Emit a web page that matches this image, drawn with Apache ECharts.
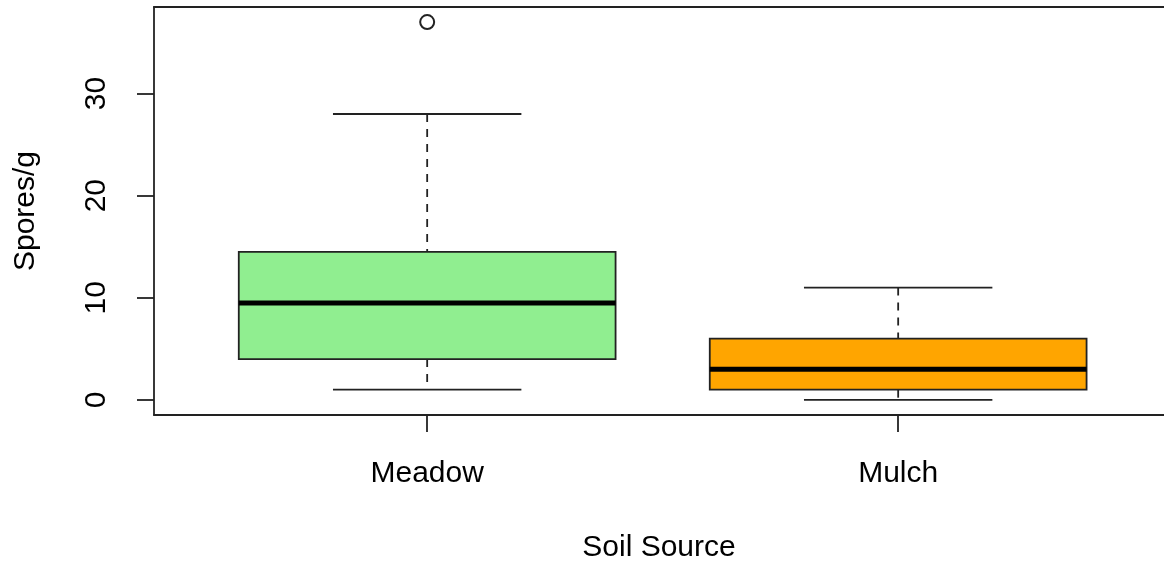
<!DOCTYPE html>
<html>
<head>
<meta charset="utf-8">
<script src="https://cdn.jsdelivr.net/npm/echarts@6/dist/echarts.min.js"></script>
<style>
  html, body { margin: 0; padding: 0; background: #fff; }
  #chart { width: 1164px; height: 563px; }
</style>
</head>
<body>
<div id="chart"></div>
<script>
// Spore counts per gram by soil source (five-number summaries)
const categories = ['Meadow', 'Mulch'];
const whiskerLow = [1, 0];
const q1 = [4, 1];
const median = [9.5, 3];
const q3 = [14.5, 6];
const whiskerHigh = [28, 11];
// outliers as [category index (1-based), value]
const outliers = [[1, 37]];
const fillColors = ['#90EE90', '#FFA500'];
const yTicks = [0, 10, 20, 30];
const xTicks = [1, 2];

const FONT = '"Liberation Sans", Arial, Helvetica, sans-serif';
const INK = '#222';
const LW = 1.8;

const boxData = categories.map((c, i) =>
  [i + 1, whiskerLow[i], q1[i], median[i], q3[i], whiskerHigh[i], i]);

function renderBox(params, api) {
  const x = api.value(0);
  const idx = api.value(6);
  const pLow = api.coord([x, api.value(1)]);
  const pQ1 = api.coord([x, api.value(2)]);
  const pMed = api.coord([x, api.value(3)]);
  const pQ3 = api.coord([x, api.value(4)]);
  const pHigh = api.coord([x, api.value(5)]);
  const boxW = api.size([0.8, 0])[0];
  const capW = api.size([0.4, 0])[0];
  const cx = pMed[0];
  const dash = { stroke: INK, lineWidth: LW, lineDash: [8, 7] };
  const solid = { stroke: INK, lineWidth: LW };
  return {
    type: 'group',
    children: [
      { type: 'line', shape: { x1: cx, y1: pHigh[1], x2: cx, y2: pQ3[1] }, style: dash },
      { type: 'line', shape: { x1: cx, y1: pQ1[1], x2: cx, y2: pLow[1] }, style: dash },
      { type: 'line', shape: { x1: cx - capW / 2, y1: pHigh[1], x2: cx + capW / 2, y2: pHigh[1] }, style: solid },
      { type: 'line', shape: { x1: cx - capW / 2, y1: pLow[1], x2: cx + capW / 2, y2: pLow[1] }, style: solid },
      {
        type: 'rect',
        shape: { x: cx - boxW / 2, y: pQ3[1], width: boxW, height: pQ1[1] - pQ3[1] },
        style: { fill: fillColors[idx], stroke: INK, lineWidth: LW }
      },
      {
        type: 'line',
        shape: { x1: cx - boxW / 2, y1: pMed[1], x2: cx + boxW / 2, y2: pMed[1] },
        style: { stroke: '#000', lineWidth: 5 }
      }
    ]
  };
}

const frameLine = { show: true, onZero: false, lineStyle: { color: INK, width: LW } };

const chart = echarts.init(document.getElementById('chart'), null, { renderer: 'canvas' });
chart.setOption({
  animation: false,
  backgroundColor: '#fff',
  textStyle: { fontFamily: FONT },
  grid: { left: 154, right: 0, top: 7, bottom: 148, show: false, outerBoundsMode: 'none', containLabel: false },
  xAxis: [
    {
      type: 'value',
      position: 'bottom',
      min: 0.42, max: 2.5644,
      axisLine: frameLine,
      splitLine: { show: false },
      axisTick: { show: true, customValues: xTicks, length: 17, lineStyle: { color: INK, width: LW } },
      axisLabel: {
        customValues: xTicks,
        formatter: v => categories[Math.round(v) - 1],
        fontSize: 30, color: '#000', margin: 44, fontFamily: FONT
      },
      name: 'Soil Source',
      nameLocation: 'middle',
      nameGap: 118,
      nameTextStyle: { fontSize: 30, color: '#000', fontFamily: FONT }
    },
    {
      // top edge of the plot frame
      type: 'value',
      position: 'top',
      min: 0.42, max: 2.5644,
      axisLine: frameLine,
      axisTick: { show: false },
      axisLabel: { show: false },
      splitLine: { show: false }
    }
  ],
  yAxis: {
    type: 'value',
    min: -1.48, max: 38.48,
    axisLine: frameLine,
    splitLine: { show: false },
    axisTick: { show: true, customValues: yTicks, length: 17, lineStyle: { color: INK, width: LW } },
    axisLabel: {
      customValues: yTicks,
      rotate: 90,
      fontSize: 30, color: '#000', margin: 42, fontFamily: FONT
    },
    name: 'Spores/g',
    nameLocation: 'middle',
    nameRotate: 90,
    nameGap: 113,
    nameTextStyle: { fontSize: 30, color: '#000', fontFamily: FONT }
  },
  series: [
    {
      type: 'custom',
      renderItem: renderBox,
      data: boxData,
      encode: { x: 0, y: [1, 2, 3, 4, 5] },
      clip: false,
      z: 2
    },
    {
      type: 'scatter',
      data: outliers,
      symbol: 'emptyCircle',
      symbolSize: 14,
      itemStyle: { color: INK, borderColor: INK, borderWidth: LW, opacity: 1 },
      z: 3
    }
  ]
});
</script>
</body>
</html>
